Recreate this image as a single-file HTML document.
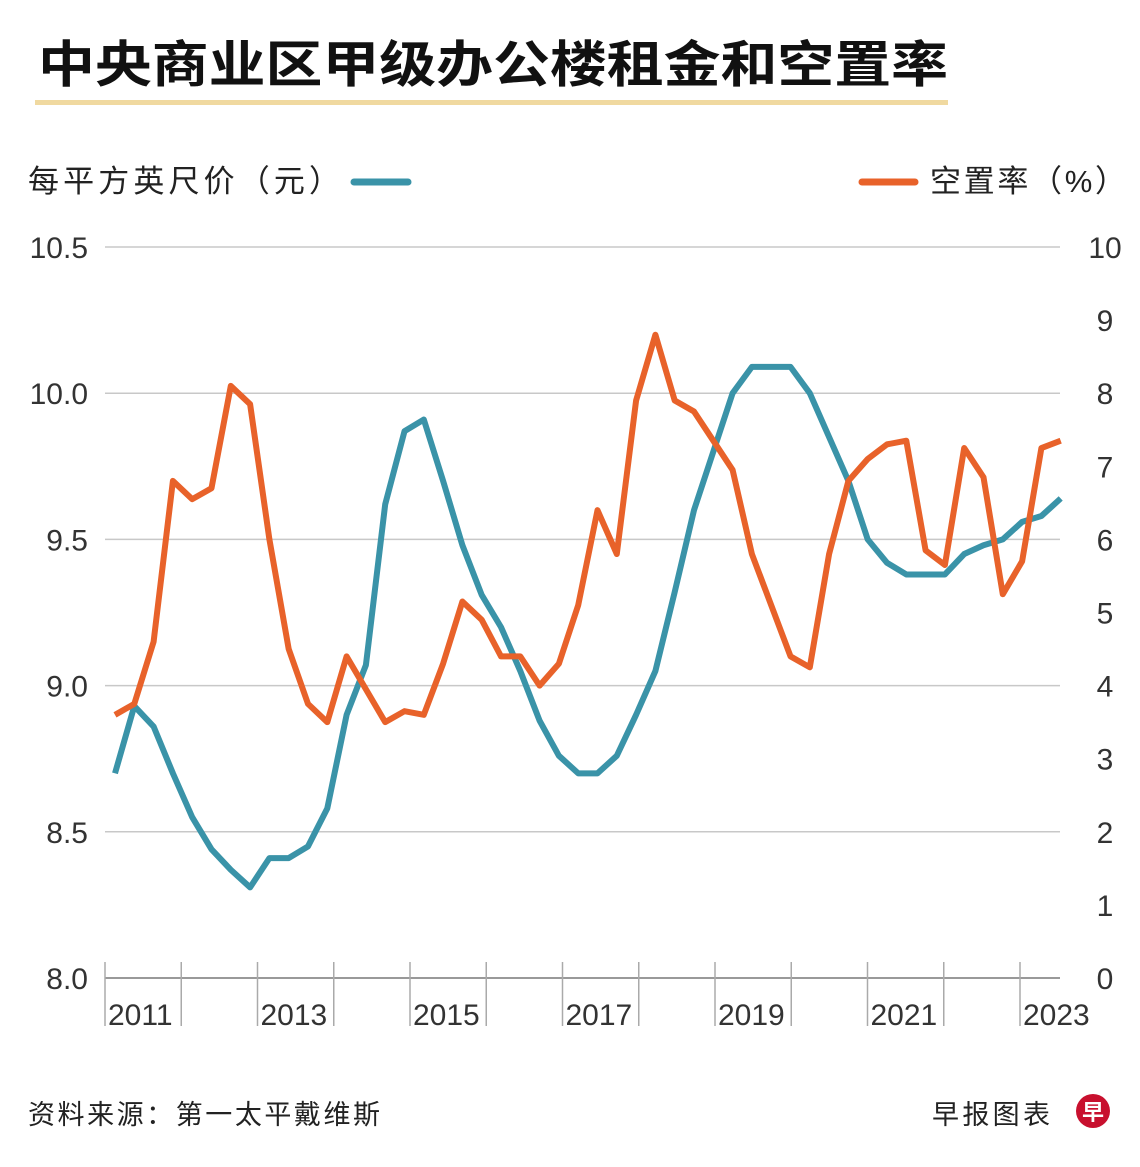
<!DOCTYPE html>
<html><head><meta charset="utf-8"><style>
body{margin:0;background:#fff;}
svg text{font-family:"Liberation Sans","Noto Sans CJK SC",sans-serif;}
</style></head><body>
<svg width="1140" height="1162" viewBox="0 0 1140 1162" xmlns="http://www.w3.org/2000/svg">
<text x="38" y="82" font-size="50" font-weight="bold" fill="#111" textLength="910" lengthAdjust="spacingAndGlyphs">中央商业区甲级办公楼租金和空置率</text>
<rect x="35" y="100" width="913" height="5" fill="#f0d9a0"/>
<text x="28" y="192" font-size="31" fill="#222" textLength="312" lengthAdjust="spacing">每平方英尺价（元）</text>
<line x1="354" y1="182" x2="408" y2="182" stroke="#3a93a8" stroke-width="7" stroke-linecap="round"/>
<line x1="862" y1="182" x2="915" y2="182" stroke="#e8622a" stroke-width="7" stroke-linecap="round"/>
<text x="930" y="192" font-size="31" fill="#222" textLength="196" lengthAdjust="spacing">空置率（%）</text>
<g id="grid"></g><g id="axes"></g><g id="lines"></g>
<text x="28" y="1124" font-size="27" fill="#222" textLength="352" lengthAdjust="spacing">资料来源：第一太平戴维斯</text>
<text x="932" y="1124" font-size="27" fill="#222" textLength="118" lengthAdjust="spacing">早报图表</text>
<circle cx="1093" cy="1111" r="17" fill="#c8102e"/>
<text x="1093" y="1120" font-size="22" font-weight="bold" fill="#fff" text-anchor="middle">早</text>
</svg>
<script>
const leftTicks=[8.0,8.5,9.0,9.5,10.0,10.5];
const leftTickLabels=["8.0","8.5","9.0","9.5","10.0","10.5"];
const rightTicks=[0,1,2,3,4,5,6,7,8,9,10];
const years=["2011","2012","2013","2014","2015","2016","2017","2018","2019","2020","2021","2022","2023"];
const rent=[8.70,8.93,8.86,8.70,8.55,8.44,8.37,8.31,8.41,8.41,8.45,8.58,8.90,9.07,9.62,9.87,9.91,9.70,9.48,9.31,9.20,9.05,8.88,8.76,8.70,8.70,8.76,8.90,9.05,9.32,9.60,9.80,10.00,10.09,10.09,10.09,10.00,9.85,9.70,9.50,9.42,9.38,9.38,9.38,9.45,9.48,9.50,9.56,9.58,9.64];
const vacancy=[3.6,3.75,4.6,6.8,6.55,6.7,8.1,7.85,6.0,4.5,3.75,3.5,4.4,3.95,3.5,3.65,3.6,4.3,5.15,4.9,4.4,4.4,4.0,4.3,5.1,6.4,5.8,7.9,8.8,7.9,7.75,7.35,6.95,5.8,5.1,4.4,4.25,5.8,6.8,7.1,7.3,7.35,5.85,5.65,7.25,6.85,5.25,5.7,7.25,7.35];
const NS="http://www.w3.org/2000/svg";
const X0=105,X1=1060,yTop=247,yBot=978;
const yL=v=>yBot-(v-8)/2.5*(yBot-yTop);
const yR=v=>yBot-v/10*(yBot-yTop);
const xYear=i=>105+i*76.25;
const xQ=i=>115+i*19.3;
function mk(t,a,p){const e=document.createElementNS(NS,t);for(const k in a)e.setAttribute(k,a[k]);p.appendChild(e);return e;}
const grid=document.getElementById('grid'),axes=document.getElementById('axes'),lines=document.getElementById('lines');
leftTicks.forEach((v,i)=>{
 const l=mk('line',{x1:X0,x2:X1,y1:yL(v),y2:yL(v),stroke:i==0?'#999':'#c8c8c8','stroke-width':i==0?2:1.5},grid);
 
 
 const t=mk('text',{x:88,y:yL(v)+11,'font-size':30,fill:'#333','text-anchor':'end'},axes);
 t.textContent=leftTickLabels[i];
 
 
});
rightTicks.forEach(v=>{
 const t=mk('text',{x:1105,y:yR(v)+11,'font-size':30,fill:'#333','text-anchor':'middle'},axes);
 t.textContent=String(v);
 
 
});
years.forEach((y,i)=>{
 const x=xYear(i);
 const l=mk('line',{x1:x,x2:x,y1:962,y2:1026,stroke:'#aaa','stroke-width':1.5},axes);
 
 
 if(i%2==0){
  const t=mk('text',{x:x+3,y:1025,'font-size':30,fill:'#333'},axes);
  t.textContent=y;
  
  
 }
});
const p1=mk('polyline',{points:rent.map((v,i)=>xQ(i)+','+yL(v)).join(' '),fill:'none',stroke:'#3a93a8','stroke-width':6,'stroke-linejoin':'round'},lines);


const p2=mk('polyline',{points:vacancy.map((v,i)=>xQ(i)+','+yR(v)).join(' '),fill:'none',stroke:'#e8622a','stroke-width':6,'stroke-linejoin':'round'},lines);


</script>
</body></html>
